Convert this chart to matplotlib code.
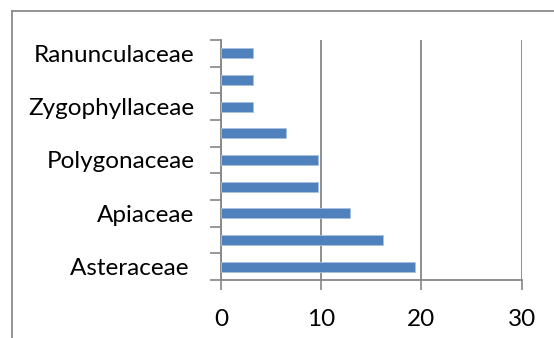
import numpy as np
import matplotlib.pyplot as plt
from matplotlib.lines import Line2D

# Family shares (%), bottom to top
families = ['Asteraceae ', '', 'Apiaceae', '', 'Polygonaceae', '', 'Zygophyllaceae', '', 'Ranunculaceae']
values = [19.35, 16.13, 12.9, 9.68, 9.68, 6.45, 3.23, 3.23, 3.23]
x_ticks = [0, 10, 20, 30]

grey = '#868686'
plt.rcParams['font.family'] = ['Lato', 'DejaVu Sans']

fig = plt.figure(figsize=(5.54, 3.38), dpi=100)
ax = fig.add_axes([0.399, 0.1716, 0.5427, 0.7101])

pos = np.arange(len(values))
ax.barh(pos, values, height=0.38, color='#4F81BD', edgecolor='#a9c1e0', linewidth=0.6, zorder=3)

ax.set_xlim(0, 30)
ax.set_ylim(-0.5, len(values) - 0.5)
ax.set_xticks(x_ticks)
ax.set_xticklabels([str(t) for t in x_ticks])
ax.set_yticks(pos)
ax.set_yticklabels(families)
ax.set_yticks(np.arange(len(values) + 1) - 0.5, minor=True)

ax.grid(axis='x', color=grey, linewidth=1.3, zorder=0)
ax.tick_params(axis='y', which='major', length=0, pad=19, labelsize=17.5)
ax.tick_params(axis='y', which='minor', length=8, width=1.2, color=grey)
ax.tick_params(axis='x', length=7, width=1.2, color=grey, pad=14, labelsize=17.5)

for s in ['top', 'right']:
    ax.spines[s].set_visible(False)
for s in ['left', 'bottom']:
    ax.spines[s].set_color(grey)
    ax.spines[s].set_linewidth(1.3)

# chart frame (top and left edge visible)
fig.add_artist(Line2D([12 / 554, 1], [1 - 11 / 338, 1 - 11 / 338], color='#8a8a8a', linewidth=1.3, transform=fig.transFigure))
fig.add_artist(Line2D([12 / 554, 12 / 554], [0, 1 - 11 / 338], color='#8a8a8a', linewidth=1.3, transform=fig.transFigure))

fig.savefig('out.png', dpi=100)
